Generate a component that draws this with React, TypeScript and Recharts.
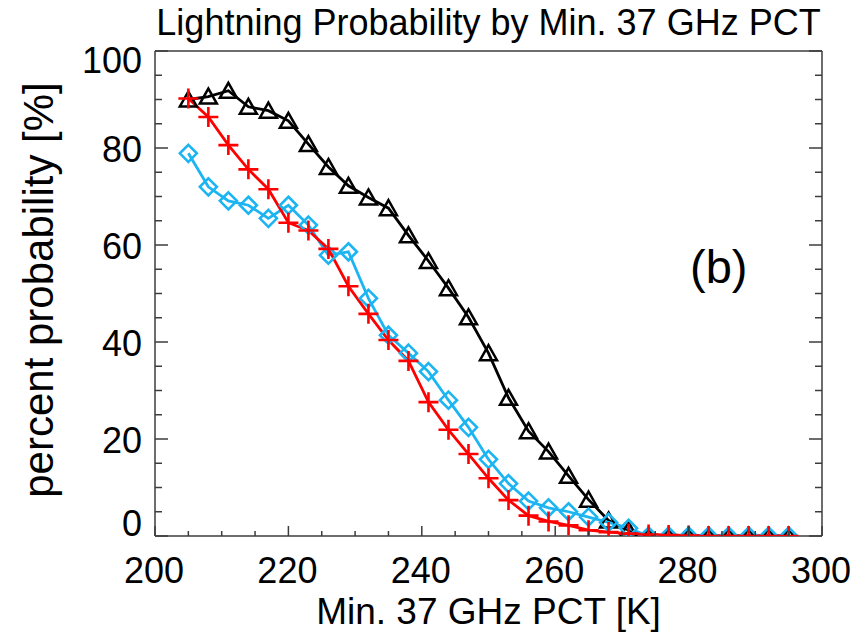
import React from 'react';
import { LineChart, Line, XAxis, YAxis } from 'recharts';

// Minimum 37 GHz PCT bin centres [K]
const temperatures = [205, 208, 211, 214, 217, 220, 223, 226, 229, 232, 235, 238, 241, 244, 247, 250, 253, 256, 259, 262, 265, 268, 271, 274, 277, 280, 283, 286, 289, 292, 295];

// Lightning probability [%] per series
const blackSeries = [90, 90.6, 91.8, 88.5, 87.7, 85.6, 80.8, 76.1, 72.2, 69.8, 67.6, 62, 56.7, 51.1, 45.1, 37.7, 28.5, 21.6, 17.4, 12.4, 7.5, 3.2, 1.2, 0, 0, 0, 0, 0, 0, 0, 0];
const redSeries = [90.2, 86.4, 80.6, 75.6, 71.5, 64.6, 63, 59.2, 51.5, 45.8, 40.4, 36.1, 27.6, 21.9, 16.9, 11.9, 7.4, 4.2, 3.0, 2.2, 1.2, 0.8, 0.5, 0.3, 0.2, 0.1, 0, 0, 0, 0, 0];
const cyanSeries = [78.9, 72.0, 69.1, 68.2, 65.5, 68.2, 64.1, 57.9, 58.6, 49.0, 41.4, 37.7, 33.9, 28.0, 22.4, 15.8, 10.8, 7.2, 5.8, 5.0, 3.9, 2.8, 1.6, 0, 0, 0, 0, 0, 0, 0, 0];

// Axis ticks
const xTicks = [200, 205, 210, 215, 220, 225, 230, 235, 240, 245, 250, 255, 260, 265, 270, 275, 280, 285, 290, 295, 300];
const xLabelTicks = [200, 220, 240, 260, 280, 300];
const yTicks = [0, 5, 10, 15, 20, 25, 30, 35, 40, 45, 50, 55, 60, 65, 70, 75, 80, 85, 90, 95, 100];
const yLabelTicks = [0, 20, 40, 60, 80, 100];

const data = temperatures.map((t, i) => ({
  t,
  black: blackSeries[i],
  red: redSeries[i],
  cyan: cyanSeries[i],
}));

const FONT = "'Liberation Sans', Arial, Helvetica, sans-serif";
const AXIS_COLOR = '#3c3c3c';
const CYAN = '#1cb5f2';

const XTickBottom = (props: any) => {
  const { x, y, payload } = props;
  const v = payload.value;
  const major = xLabelTicks.includes(v);
  const len = major ? 10 : 5;
  return (
    <g>
      <line x1={x} y1={y} x2={x} y2={y - len} stroke={AXIS_COLOR} strokeWidth={1.5} />
      {major && (
        <text x={x - 1} y={y + 47} textAnchor="middle" fontFamily={FONT} fontSize={36} fill="#000">
          {v}
        </text>
      )}
    </g>
  );
};

const XTickTop = (props: any) => {
  const { x, y, payload } = props;
  const major = xLabelTicks.includes(payload.value);
  const len = major ? 10 : 5;
  return <line x1={x} y1={y} x2={x} y2={y + len} stroke={AXIS_COLOR} strokeWidth={1.5} />;
};

const YTickLeft = (props: any) => {
  const { x, y, payload } = props;
  const v = payload.value;
  const major = yLabelTicks.includes(v);
  const len = major ? 13 : 7;
  let dy = 14;
  if (v === 100) dy = 22;
  if (v === 0) dy = 0;
  return (
    <g>
      <line x1={x} y1={y} x2={x + len} y2={y} stroke={AXIS_COLOR} strokeWidth={1.5} />
      {major && (
        <text x={x - 13} y={y + dy} textAnchor="end" fontFamily={FONT} fontSize={36} fill="#000">
          {v}
        </text>
      )}
    </g>
  );
};

const YTickRight = (props: any) => {
  const { x, y, payload } = props;
  const major = yLabelTicks.includes(payload.value);
  const len = major ? 13 : 7;
  return <line x1={x} y1={y} x2={x - len} y2={y} stroke={AXIS_COLOR} strokeWidth={1.5} />;
};

const TriangleDot = (props: any) => {
  const { cx, cy, index } = props;
  if (cx == null || cy == null) return <g key={`tri-${index}`} />;
  const d = `M${cx},${cy - 8} L${cx + 8.5},${cy + 7} L${cx - 8.5},${cy + 7} Z`;
  return <path key={`tri-${index}`} d={d} fill="none" stroke="#000" strokeWidth={2.5} strokeLinejoin="miter" />;
};

const DiamondDot = (props: any) => {
  const { cx, cy, index } = props;
  if (cx == null || cy == null) return <g key={`dia-${index}`} />;
  const r = 8.5;
  const d = `M${cx},${cy - r} L${cx + r},${cy} L${cx},${cy + r} L${cx - r},${cy} Z`;
  return <path key={`dia-${index}`} d={d} fill="none" stroke={CYAN} strokeWidth={2.6} />;
};

const PlusDot = (props: any) => {
  const { cx, cy, index } = props;
  if (cx == null || cy == null) return <g key={`plus-${index}`} />;
  const r = 10;
  const d = `M${cx - r},${cy} L${cx + r},${cy} M${cx},${cy - r} L${cx},${cy + r}`;
  return <path key={`plus-${index}`} d={d} fill="none" stroke="#ff0000" strokeWidth={2.6} />;
};

export default function App() {
  return (
    <div style={{ position: 'absolute', left: 0, top: 0, width: 868, height: 636, background: '#fff' }}>
      <LineChart
        width={868}
        height={636}
        data={data}
        margin={{ top: 50, right: 45, bottom: 70, left: 95 }}
      >
        <XAxis
          xAxisId="bottom"
          dataKey="t"
          type="number"
          domain={[200, 300]}
          ticks={xTicks}
          interval={0}
          height={30}
          tickSize={0}
          tickMargin={0}
          tickLine={false}
          axisLine={{ stroke: AXIS_COLOR, strokeWidth: 1.5 }}
          tick={<XTickBottom />}
          allowDataOverflow
        />
        <XAxis
          xAxisId="top"
          orientation="top"
          type="number"
          domain={[200, 300]}
          ticks={xTicks}
          interval={0}
          height={1}
          tickSize={0}
          tickMargin={0}
          tickLine={false}
          axisLine={{ stroke: AXIS_COLOR, strokeWidth: 1.5 }}
          tick={<XTickTop />}
          allowDataOverflow
        />
        <YAxis
          yAxisId="left"
          type="number"
          domain={[0, 100]}
          ticks={yTicks}
          interval={0}
          width={60}
          tickSize={0}
          tickMargin={0}
          tickLine={false}
          axisLine={{ stroke: AXIS_COLOR, strokeWidth: 1.5 }}
          tick={<YTickLeft />}
          allowDataOverflow
        />
        <YAxis
          yAxisId="right"
          orientation="right"
          type="number"
          domain={[0, 100]}
          ticks={yTicks}
          interval={0}
          width={1}
          tickSize={0}
          tickMargin={0}
          tickLine={false}
          axisLine={{ stroke: AXIS_COLOR, strokeWidth: 1.5 }}
          tick={<YTickRight />}
          allowDataOverflow
        />
        <Line
          xAxisId="bottom"
          yAxisId="left"
          type="linear"
          dataKey="black"
          stroke="#000"
          strokeWidth={2.8}
          dot={TriangleDot}
          activeDot={false}
          isAnimationActive={false}
        />
        <Line
          xAxisId="bottom"
          yAxisId="left"
          type="linear"
          dataKey="cyan"
          stroke={CYAN}
          strokeWidth={2.8}
          dot={DiamondDot}
          activeDot={false}
          isAnimationActive={false}
        />
        <Line
          xAxisId="bottom"
          yAxisId="left"
          type="linear"
          dataKey="red"
          stroke="#ff0000"
          strokeWidth={2.8}
          dot={PlusDot}
          activeDot={false}
          isAnimationActive={false}
        />
      </LineChart>
      <svg
        width={868}
        height={636}
        style={{ position: 'absolute', left: 0, top: 0, pointerEvents: 'none' }}
      >
        <text x={488.5} y={35} textAnchor="middle" fontFamily={FONT} fontSize={36} fill="#000">
          Lightning Probability by Min. 37 GHz PCT
        </text>
        <text x={488.5} y={624} textAnchor="middle" fontFamily={FONT} fontSize={37} fill="#000">
          Min. 37 GHz PCT [K]
        </text>
        <text
          x={53}
          y={290}
          textAnchor="middle"
          fontFamily={FONT}
          fontSize={42}
          fill="#000"
          transform="rotate(-90 53 290)"
        >
          percent probability [%]
        </text>
        <text x={690} y={283} fontFamily={FONT} fontSize={47} fill="#000">
          (b)
        </text>
      </svg>
    </div>
  );
}
